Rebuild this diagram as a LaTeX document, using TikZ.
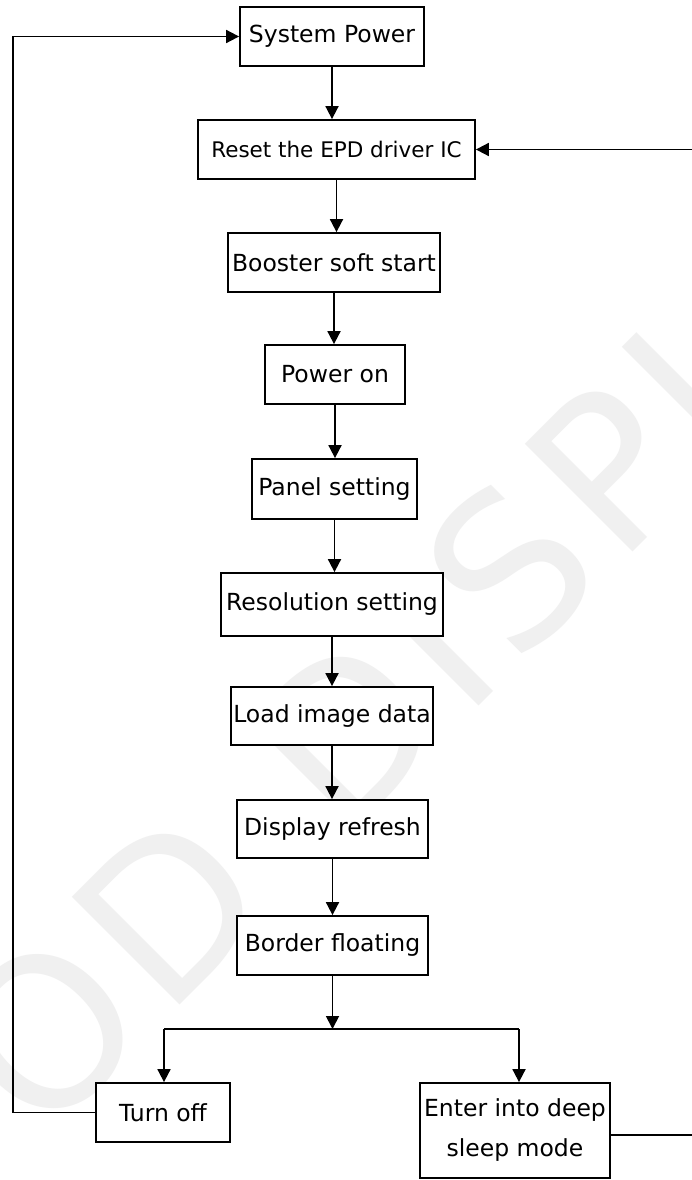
\documentclass[tikz,border=0pt]{standalone}
\usepackage{fontspec}
\setmainfont{DejaVu Sans}
\usetikzlibrary{arrows.meta}
\newcommand{\wk}{\kern 11.5pt}
\tikzset{
  box/.style={draw=black, line width=1.8pt, fill=white, inner sep=0pt, align=center,
    font=\fontsize{23.5}{40}\selectfont},
  conn/.style={line width=1.8pt, draw=black},
  arr/.style={conn, -{Triangle[length=13pt,width=13pt]}},
}
\begin{document}
\begin{tikzpicture}[x=1pt, y=-1pt]
\useasboundingbox (0,0) rectangle (692,1180);
\fill[white] (0,0) rectangle (692,1180);
% watermark
\node[anchor=base west, rotate=45, inner sep=0pt, text=black!6,
  font=\fontsize{209}{209}\selectfont] (wm) at (-206,1391)
  {G\wk O\wk O\wk D\wk{} \wk D\wk I\wk S\wk P\wk L\wk A\wk Y};
% boxes
\node[box, minimum width=184pt, minimum height=59pt] (sp) at (332,36.5) {System Power};
\node[box, minimum width=277pt, minimum height=59pt, font=\fontsize{21.5}{26}\selectfont] (rst) at (336.5,149.5) {Reset the EPD driver IC};
\node[box, minimum width=212pt, minimum height=59pt] (bst) at (334,262.5) {Booster soft start};
\node[box, minimum width=140pt, minimum height=59pt] (pon) at (335,374.5) {Power on};
\node[box, minimum width=165pt, minimum height=60pt] (pnl) at (334.5,489) {Panel setting};
\node[box, minimum width=222pt, minimum height=63pt] (res) at (332,604.5) {Resolution setting};
\node[box, minimum width=202pt, minimum height=58pt] (load) at (332,716) {Load image data};
\node[box, minimum width=191pt, minimum height=58pt] (dsp) at (332.5,829) {Display refresh};
\node[box, minimum width=191pt, minimum height=59pt] (brd) at (332.5,945.5) {Border floating};
\node[box, minimum width=134pt, minimum height=59pt] (off) at (163,1112.5) {Turn off};
\node[box, minimum width=190pt, minimum height=95pt] (slp) at (515,1130.5) {Enter into deep\\sleep mode};
% coordinates
\coordinate (jn) at (335,1029);
\coordinate (jl) at (164,1029);
\coordinate (jr) at (519,1029);
\coordinate (lx) at (13,0);
\coordinate (rin) at (692,149.5);
\coordinate (rout) at (692,1135);
% connectors
\draw[arr] (sp.south) -- (sp.south |- rst.north);
\draw[arr] (rst.south) -- (rst.south |- bst.north);
\draw[arr] (bst.south) -- (bst.south |- pon.north);
\draw[arr] (pon.south) -- (pon.south |- pnl.north);
\draw[arr] (pnl.south) -- (pnl.south |- res.north);
\draw[arr] (res.south) -- (res.south |- load.north);
\draw[arr] (load.south) -- (load.south |- dsp.north);
\draw[arr] (dsp.south) -- (dsp.south |- brd.north);
\draw[arr] (brd.south) -- (brd.south |- jn);
\draw[conn] (jl) -- (jr);
\draw[arr] (jl) -- (jl |- off.north);
\draw[arr] (jr) -- (jr |- slp.north);
\draw[arr] (off.west) -- (lx |- off.west) -- (lx |- sp.west) -- (sp.west);
\draw[arr] (rin) -- (rst.east);
\draw[conn] (slp.east |- rout) -- (rout);
\end{tikzpicture}
\end{document}
